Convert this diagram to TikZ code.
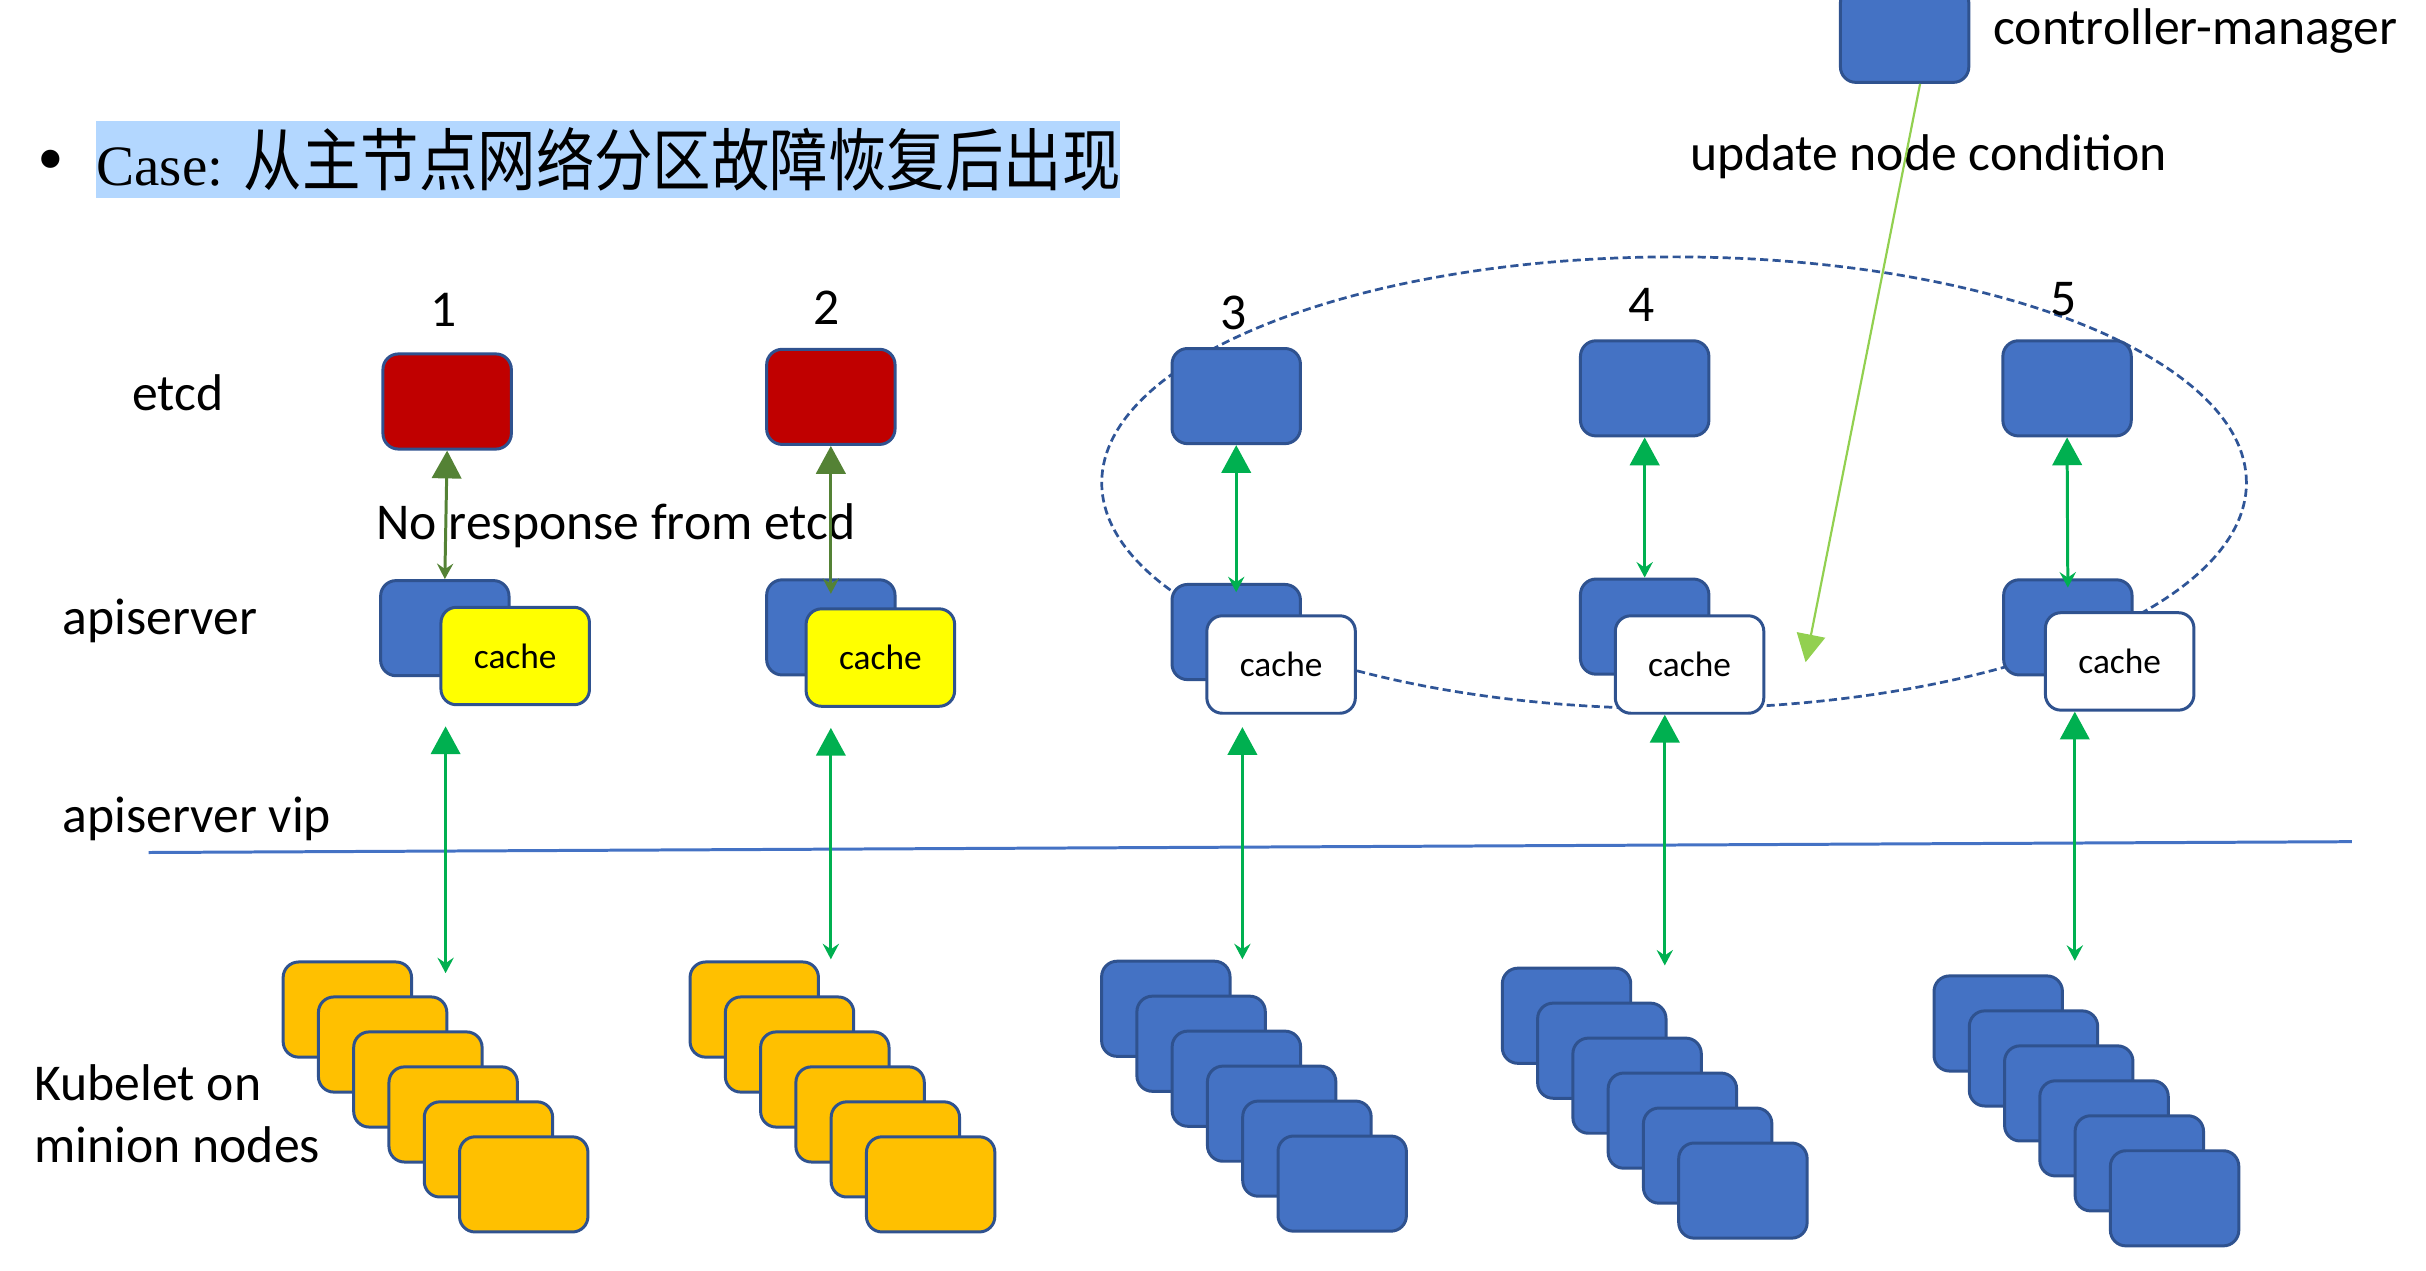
\documentclass[tikz,border=0pt]{standalone}
\usepackage{fontspec}
\setmainfont{Carlito}
\newfontfamily\casefont{Liberation Serif}
\newfontfamily\cjk[FakeStretch=0.86]{Noto Sans CJK SC}
\usetikzlibrary{arrows.meta}

\definecolor{rimblue}{HTML}{2F528F}
\definecolor{boxblue}{HTML}{4472C4}
\definecolor{failred}{HTML}{C00000}
\definecolor{cacheyellow}{HTML}{FFFF00}
\definecolor{podorange}{HTML}{FFC000}
\definecolor{okgreen}{HTML}{00B050}
\definecolor{deadgreen}{HTML}{548235}
\definecolor{updgreen}{HTML}{92D050}
\definecolor{ringblue}{HTML}{2F5597}
\definecolor{hilite}{HTML}{B3D7FF}

\tikzset{
  box/.style={draw=rimblue, line width=1.1pt, rounded corners=0.2cm, inner sep=0pt,
    minimum width=1.66cm, minimum height=1.23cm},
  etcdbad/.style={box, fill=failred},
  etcdok/.style={box, fill=boxblue},
  apibox/.style={box, fill=boxblue},
  cachebox/.style={box, minimum width=1.92cm, minimum height=1.26cm,
    font=\fontsize{13pt}{13pt}\selectfont},
  kubbox/.style={box},
  lbl/.style={font=\fontsize{19pt}{23pt}\selectfont, inner sep=0pt},
  casebar/.style={fill=hilite, inner xsep=0pt, inner ysep=0pt, minimum height=1cm,
    font=\fontsize{25pt}{25pt}\selectfont},
  linkarrow/.style={line width=1.1pt,
    arrows={Triangle[width=0.38cm,length=0.36cm]-Stealth[width=0.21cm,length=0.2cm,inset=0.07cm]}},
  deadlink/.style={linkarrow, draw=deadgreen},
  oklink/.style={linkarrow, draw=okgreen},
  updarrow/.style={draw=updgreen, line width=0.8pt, -{Triangle[width=0.37cm,length=0.36cm]}},
  vipline/.style={draw=boxblue, line width=1.1pt},
  ring/.style={draw=ringblue, line width=1pt, dash pattern=on 3pt off 1.6pt}
}

\begin{document}
\begin{tikzpicture}[x=0.02cm, y=-0.02cm]
\useasboundingbox (0,0) rectangle (1568,821);
%caso
  \node[inner sep=0pt, font=\fontsize{28pt}{28pt}\selectfont] (dot) at (33,108) {\casefont •};
  \node[casebar, anchor=west] (case) at (62,103)
    {{\casefont\fontsize{21pt}{21pt}\selectfont Case:} {\cjk 从主节点网络分区故障恢复后出现}};
%grupo saudavel
  \draw[ring] (1082,312) ellipse [x radius=7.4cm, y radius=2.92cm];
%rotulos
  \node[lbl, anchor=west] (etcdlbl) at (85,254) {etcd};
  \node[lbl, anchor=west] (apilbl) at (40,401) {apiserver};
  \node[lbl, anchor=west] (viplbl) at (40,529) {apiserver vip};
  \node[lbl, anchor=west, align=left] (kublbl) at (22,720) {Kubelet on\\minion nodes};
  \node[lbl] (num1) at (287,200) {1};
  \node[lbl] (num2) at (534,199) {2};
  \node[lbl] (num3) at (797,202) {3};
  \node[lbl] (num4) at (1061,197) {4};
  \node[lbl] (num5) at (1334,193) {5};
  \node[lbl, anchor=west] (nolbl) at (243,340) {No response from etcd};
  \node[lbl, anchor=west] (updlbl) at (1092,101) {update node condition};
  \node[lbl, anchor=west] (ctrllbl) at (1288,20) {controller-manager};
%etcd
  \node[etcdbad] (etcd1) at (289,259.5) {};
  \node[etcdbad] (etcd2) at (537,256.5) {};
  \node[etcdok] (etcd3) at (799,256) {};
  \node[etcdok] (etcd4) at (1063,251) {};
  \node[etcdok] (etcd5) at (1336,251) {};
%apiserver
  \node[apibox] (api1) at (287.5,406) {};
  \node[apibox] (api2) at (537,405.5) {};
  \node[apibox] (api3) at (799,408.5) {};
  \node[apibox] (api4) at (1063,405) {};
  \node[apibox] (api5) at (1336.5,405.5) {};
  \node[cachebox, fill=cacheyellow] (cache1) at (333,424) {cache};
  \node[cachebox, fill=cacheyellow] (cache2) at (569,425) {cache};
  \node[cachebox, fill=white] (cache3) at (828,429.5) {cache};
  \node[cachebox, fill=white] (cache4) at (1092,429.5) {cache};
  \node[cachebox, fill=white] (cache5) at (1370,427.5) {cache};
%controller-manager
  \node[apibox] (ctrl) at (1231,22.5) {};
  \coordinate (updtip) at (1167,428);
  \draw[updarrow] ([xshift=0.2cm]ctrl.south) -- (updtip);
%kubelets
  \foreach \s/\x/\y/\c in {1/224.5/652.5/podorange, 2/487.5/652.5/podorange,
      3/753.5/652/boxblue, 4/1012.5/656.5/boxblue, 5/1291.5/661.5/boxblue}
    \foreach \k in {0,...,5}
      \node[kubbox, fill=\c] (kub\s\k) at ({\x+22.8*\k},{\y+22.6*\k}) {};
%vip
  \coordinate (vipW) at (96,551);
  \coordinate (vipE) at (1520,544);
  \draw[vipline] (vipW) -- (vipE);
%etcd <-> apiserver
  \draw[deadlink] (etcd1.south) -- (api1.north);
  \draw[deadlink] (etcd2.south) -- ([yshift=-0.2cm]api2.north);
  \draw[oklink] (etcd3.south) -- ([yshift=-0.12cm]api3.north);
  \draw[oklink] (etcd4.south) -- (api4.north);
  \draw[oklink] (etcd5.south) -- ([yshift=-0.12cm]api5.north);
%apiserver <-> kubelets
  \coordinate (dn1) at (288,629);
  \coordinate (dn2) at (537,620);
  \coordinate (dn3) at (803,620);
  \coordinate (dn4) at (1076,624);
  \coordinate (dn5) at (1341,621);
  \draw[oklink] ([yshift=-0.26cm]cache1.south -| dn1) -- (dn1);
  \draw[oklink] ([yshift=-0.26cm]cache2.south -| dn2) -- (dn2);
  \draw[oklink] ([yshift=-0.16cm]cache3.south -| dn3) -- (dn3);
  \draw[oklink] (cache4.south -| dn4) -- (dn4);
  \draw[oklink] (cache5.south -| dn5) -- (dn5);
\end{tikzpicture}
\end{document}
